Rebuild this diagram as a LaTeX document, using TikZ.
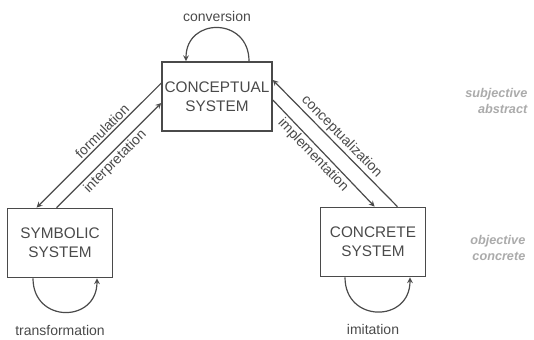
\documentclass[tikz,border=0pt]{standalone}
\usepackage{fontspec}
\setmainfont{Liberation Sans}
\usetikzlibrary{arrows}
\definecolor{inkgray}{HTML}{4A4A4A}
\definecolor{notegray}{HTML}{ABABAB}

\begin{document}
\begin{tikzpicture}[x=0.75pt, y=0.75pt, >=stealth,
    every node/.style={font=\fontsize{10.5}{14}\selectfont, text=inkgray},
    sysbox/.style={draw=inkgray, line width=1.1pt, align=center, minimum width=79pt, minimum height=52pt,
      inner sep=2pt, font=\fontsize{11.5}{14.5}\selectfont},
    link/.style={->, draw=inkgray, line width=0.9pt},
    selfarc/.style={->, draw=inkgray, line width=0.9pt, looseness=1.8},
    note/.style={anchor=east, align=right, text=notegray, font=\fontsize{9.5}{12.5}\selectfont\bfseries\itshape}]
	\useasboundingbox (0,0) rectangle (534,-339);

	% 1. three systems
	\node[sysbox] (concept) at (217,-96.5) {CONCEPTUAL\\SYSTEM};
	\node[sysbox] (symb) at (60,-243) {SYMBOLIC\\SYSTEM};
	\node[sysbox] (concr) at (373,-242) {CONCRETE\\SYSTEM};

	% 2. links between systems
	\draw[link] ([yshift=10pt]concept.west) -- ([xshift=22.5pt]symb.north west)
		node[pos=0.43, sloped, above, inner sep=1.5pt] {formulation};
	\draw[link] ([xshift=37.5pt]symb.north west) -- ([yshift=-4.9pt]concept.west)
		node[midway, sloped, below, inner sep=1.5pt] {interpretation};
	\draw[link] ([xshift=-21.75pt]concr.north east) -- ([yshift=12.4pt]concept.east)
		node[midway, sloped, above, inner sep=1.5pt] {conceptualization};
	\draw[link] ([yshift=-2.6pt]concept.east) -- ([xshift=41.25pt]concr.north west)
		node[pos=0.46, sloped, below, inner sep=1.5pt] {implementation};

	% 3. self loops
	\draw[selfarc] ([xshift=24pt]concept.north) to[out=90, in=90] ([xshift=-23.25pt]concept.north);
	\draw[selfarc] ([xshift=-20.25pt]symb.south) to[out=-90, in=-90] ([xshift=27.75pt]symb.south);
	\draw[selfarc] ([xshift=-21pt]concr.south) to[out=-90, in=-90] ([xshift=27.75pt]concr.south);
	\node (conv) at (217,-16) {conversion};
	\node (trans) at (60,-330) {transformation};
	\node (imit) at (373,-329) {imitation};

	% 4. side notes
	\node[note] (upper) at (532,-101) {subjective\\abstract};
	\node[note] (lower) at (530,-248) {objective\\concrete};
\end{tikzpicture}
\end{document}
